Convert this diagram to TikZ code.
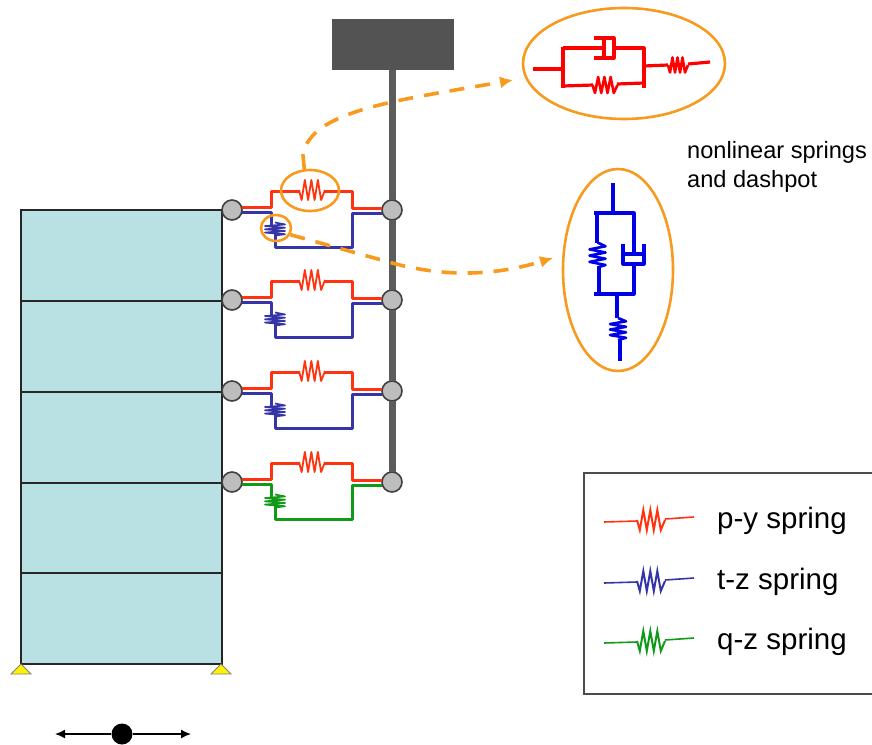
\documentclass[tikz,border=0pt]{standalone}
\usepackage{fontspec}
\setmainfont{Liberation Sans}
\usepackage{tikz}
\usetikzlibrary{shapes.geometric}
\usetikzlibrary{arrows.meta}

\definecolor{wall}{HTML}{B9E0E3}
\definecolor{pile}{HTML}{5C5C5C}
\definecolor{hubgray}{HTML}{BDBDBD}
\definecolor{bubble}{HTML}{F79A1E}
\definecolor{pyred}{HTML}{FF3310}
\definecolor{tzblue}{HTML}{3535A8}
\definecolor{qzgreen}{HTML}{109A18}

\tikzset{
  hub/.style={circle,draw=black!75,line width=1.6pt,fill=hubgray,inner sep=0pt,outer sep=0pt,minimum size=20pt},
  bubblenode/.style={ellipse,draw=bubble,line width=2.6pt,inner sep=0pt},
  guide/.style={bubble,line width=3.6pt,dash pattern=on 15pt off 11pt,-{Latex[length=13pt,width=12pt]}},
  pyline/.style={pyred,line width=3pt,line join=round},
  tzline/.style={tzblue,line width=3pt,line join=round},
  qzline/.style={qzgreen,line width=3pt,line join=round},
  detailred/.style={red,line width=3.2pt,line join=round},
  detailblue/.style={blue!90!black,line width=3.2pt,line join=round},
  caption/.style={anchor=base west,inner sep=0pt},
  swing/.style={line width=1.5pt,-{Latex[length=10pt,width=9pt]}}
}

\newcommand{\coil}[3]{\draw[shift={(#1,#2)},#3] (-1,0) -- (-.8,1) -- (-.55,-1) -- (-.3,1) -- (-.05,-1) -- (.2,1) -- (.45,-1) -- (.7,1) -- (1,0);}

\begin{document}
\begin{tikzpicture}[x=1pt,y=-1pt]
  \useasboundingbox (0,0) rectangle (872,744);
  % building
  \foreach \ya/\yb in {210/301,301/392,392/483,483/573,573/664}
    \draw[fill=wall,draw=black!85,line width=1.3pt] (21,\ya) rectangle (222,\yb);
  \foreach \xs in {21,221}
    \draw[fill=yellow,draw=black!50,line width=.8pt] (\xs,664) -- +(10,10) -- +(-10,10) -- cycle;

  % pile and hubs
  \node[draw=none,fill=pile!90!black,minimum width=122pt,minimum height=51pt,inner sep=0pt] (cap) at (393,44.5) {};
  \foreach \n/\y in {1/210,2/300,3/391,4/482}{
    \node[hub] (lh\n) at (232,\y) {};
    \node[hub] (rh\n) at (392,\y) {};
  }
  \draw[pile,line width=7pt] (rh1 |- cap.south) -- (rh1.north);
  \draw[pile,line width=7pt] (rh1.south) -- (rh2.north);
  \draw[pile,line width=7pt] (rh2.south) -- (rh3.north);
  \draw[pile,line width=7pt] (rh3.south) -- (rh4.north);

  % spring pairs
  \foreach \n/\y/\wire in {1/210/tzline,2/300/tzline,3/391/tzline,4/482/qzline}{
    \draw[pyline] ([yshift=3pt]lh\n.east) -- ++(29,0) -- (271,\y-19) -- (299,\y-19);
    \draw[pyline] (325,\y-19) -- (352,\y-19) -- (352,\y-2) -- ([yshift=2pt]rh\n.west);
    \coil{312}{\y-20}{pyline,line width=1.8pt,xscale=13,yscale=10}
    \draw[\wire] ([yshift=-2pt]lh\n.east) -- (271,\y+2) -- (271,\y+15);
    \draw[\wire] (275,\y+23) -- (275,\y+37) -- (352,\y+37) -- (352,\y+3) -- ([yshift=-3pt]rh\n.west);
    \coil{275}{\y+19}{\wire,line width=1.7pt,rotate=90,xscale=6.5,yscale=10}
  }

  % bubbles on the springs
  \node[bubblenode,minimum width=58pt,minimum height=41pt] (pybub) at (310,190.5) {};
  \node[bubblenode,minimum width=30pt,minimum height=26pt] (tzbub) at (276,228) {};
  \node[bubblenode,minimum width=202pt,minimum height=111pt] (topbub) at (624,63.5) {};
  \node[bubblenode,minimum width=110pt,minimum height=202pt] (sidebub) at (618,270) {};
  \coordinate (topend) at (513,80);
  \coordinate (sideend) at (553,258);
  \draw[guide] (pybub.105) -- (303,155) .. controls (310,110) and (400,100) .. (topend);
  \draw[guide] (tzbub.-25) -- (385,261) .. controls (440,277) and (490,277) .. (sideend);

  % red detail
  \draw[detailred] (533,69) -- (563,69);
  \draw[detailred] (563,47) -- (563,88);
  \draw[detailred] (563,48) -- (604,48);
  \draw[detailred] (604,39) -- (604,58);
  \draw[detailred] (594,38) -- (614,38) -- (614,58) -- (594,58);
  \draw[detailred] (614,48) -- (644,48) -- (644,88);
  \draw[detailred] (563,86) -- (593,85);
  \draw[detailred] (617,84) -- (644,83);
  \coil{605}{85}{detailred,line width=2.6pt,xscale=12.5,yscale=8}
  \draw[detailred] (644,66) -- (668,65);
  \draw[detailred] (688,64) -- (710,62);
  \coil{678}{65}{detailred,line width=2.6pt,xscale=10,yscale=7.5}

  % blue detail
  \draw[detailblue] (613,183) -- (613,213);
  \draw[detailblue] (594,213) -- (634,213) -- (634,254);
  \draw[detailblue] (597,213) -- (597,243);
  \coil{597.5}{255}{detailblue,line width=2.6pt,rotate=90,xscale=12.5,yscale=8}
  \draw[detailblue] (599,267) -- (599,294);
  \draw[detailblue] (594,294) -- (634,294) -- (634,264);
  \draw[detailblue] (623,244) -- (623,264) -- (644,264) -- (644,244);
  \draw[detailblue] (623,254) -- (644,254);
  \draw[detailblue] (617,294) -- (617,318);
  \coil{618}{329}{detailblue,line width=2.6pt,rotate=90,xscale=11,yscale=8}
  \draw[detailblue] (620,340) -- (620,361);

  \node[caption,font=\fontsize{23.6}{29}\selectfont] (note1) at (687,158) {nonlinear springs};
  \node[caption,font=\fontsize{23.6}{29}\selectfont] (note2) at (687,187) {and dashpot};

  % legend
  \draw[black!70,line width=1.6pt] (584,473) rectangle (880,694);
  \foreach \n/\y/\col/\lab in {1/522/pyred/p-y,2/583/tzblue/t-z,3/643/qzgreen/q-z}{
    \draw[\col,line width=1.6pt] (604,\y) -- (637,\y-1);
    \draw[\col,line width=1.6pt] (665,\y-3) -- (694,\y-5);
    \coil{651}{\y-2}{\col,line width=2pt,xscale=14,yscale=10}
    \node[caption,font=\fontsize{29.5}{32}\selectfont] (lab\n) at (717,\y+6) {\lab{} spring};
  }

  % excitation
  \node[circle,fill=black,inner sep=0pt,minimum size=21pt] (mass) at (122,734) {};
  \coordinate (wavel) at (55,734);
  \coordinate (waver) at (191,734);
  \draw[swing] (mass) -- (wavel);
  \draw[swing] (mass) -- (waver);
\end{tikzpicture}
\end{document}
